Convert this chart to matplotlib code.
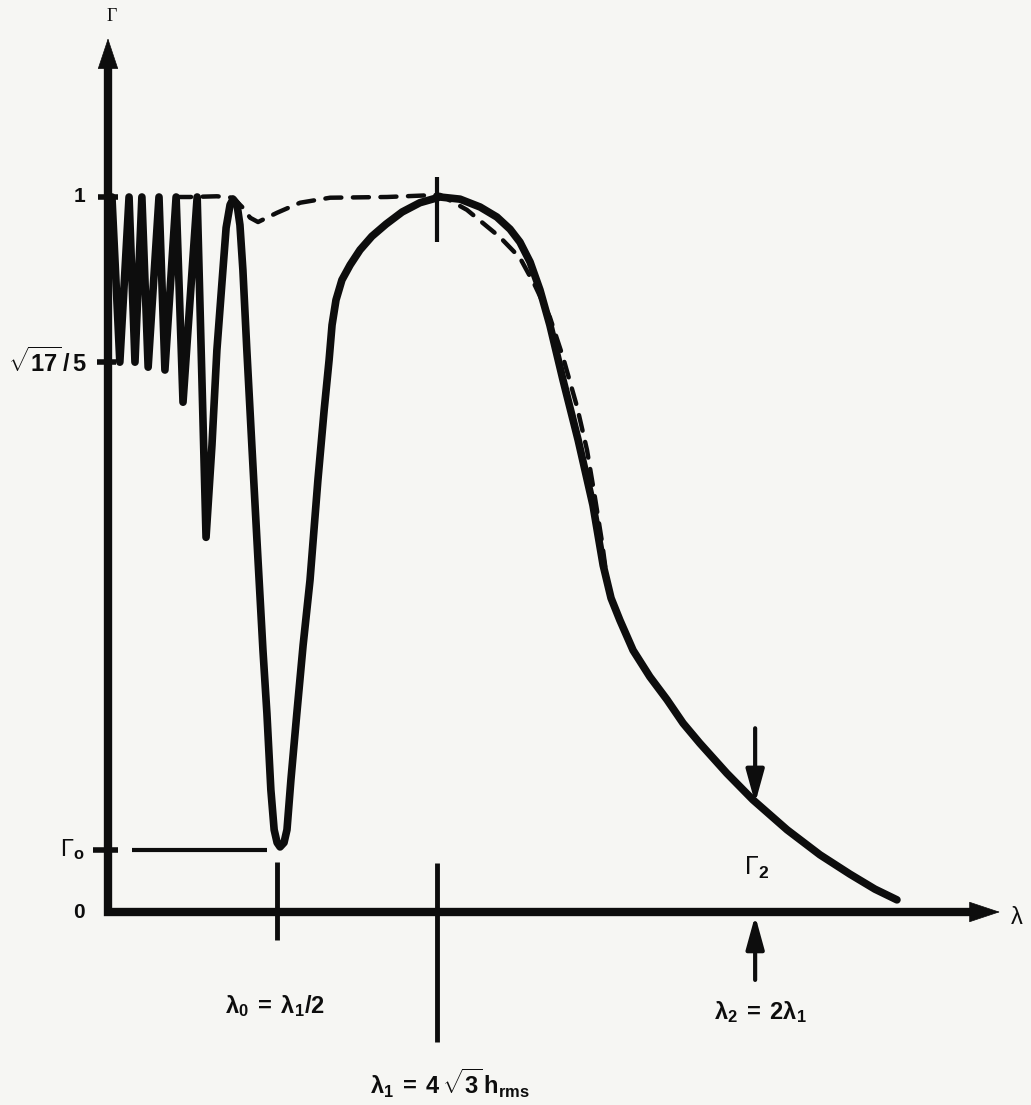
import matplotlib
matplotlib.use("Agg")
import matplotlib.pyplot as plt

plt.rcParams['font.family'] = ['Liberation Sans', 'DejaVu Sans']
plt.rcParams['mathtext.fontset'] = 'custom'
plt.rcParams['mathtext.rm'] = 'Liberation Sans'
plt.rcParams['mathtext.it'] = 'Liberation Sans:italic'
plt.rcParams['mathtext.bf'] = 'Liberation Sans:bold'

# ---- data read from the schematic (x: lambda / lambda1, y: Gamma, schematic scale) ----
solid_x = [0.012, 0.036, 0.064, 0.082, 0.103, 0.122, 0.155, 0.173, 0.207, 0.228, 0.271, 0.298,
           0.316, 0.331, 0.347, 0.359, 0.371, 0.380, 0.392, 0.401, 0.410, 0.422, 0.438, 0.456,
           0.471, 0.483, 0.495, 0.505, 0.514, 0.523, 0.535, 0.544, 0.556, 0.574, 0.593, 0.614,
           0.638, 0.657, 0.672, 0.681, 0.693, 0.711, 0.736, 0.766, 0.802, 0.845, 0.894, 0.948,
           1.009, 1.070, 1.131, 1.182, 1.222, 1.252, 1.283, 1.313, 1.343, 1.383, 1.429, 1.474,
           1.505, 1.529, 1.556, 1.596, 1.647, 1.699, 1.748, 1.799, 1.881, 1.960, 2.064, 2.164,
           2.255, 2.331, 2.398]
solid_y = [1.000, 0.769, 1.000, 0.769, 1.000, 0.762, 1.000, 0.758, 1.000, 0.713, 1.000, 0.524,
           0.653, 0.786, 0.884, 0.957, 0.989, 0.997, 0.990, 0.961, 0.898, 0.786, 0.646, 0.492,
           0.366, 0.278, 0.171, 0.115, 0.097, 0.091, 0.097, 0.115, 0.185, 0.278, 0.373, 0.464,
           0.604, 0.702, 0.772, 0.821, 0.856, 0.884, 0.905, 0.926, 0.945, 0.962, 0.979, 0.992,
           1.000, 0.997, 0.986, 0.972, 0.955, 0.937, 0.909, 0.870, 0.821, 0.744, 0.660, 0.569,
           0.485, 0.439, 0.408, 0.366, 0.329, 0.297, 0.264, 0.236, 0.194, 0.157, 0.115, 0.080,
           0.053, 0.032, 0.017]

dashed_x = [0.204, 0.249, 0.331, 0.380, 0.410, 0.432, 0.456, 0.514, 0.584, 0.675, 0.848, 1.009,
            1.091, 1.191, 1.252, 1.298, 1.343, 1.383, 1.426, 1.456, 1.480, 1.502, 1.517]
dashed_y = [1.000, 1.000, 1.001, 0.999, 0.985, 0.971, 0.965, 0.978, 0.992, 0.999, 1.000, 1.003,
            0.982, 0.944, 0.915, 0.876, 0.832, 0.776, 0.706, 0.646, 0.580, 0.516, 0.464]

gamma_levels = [1.0, 0.769, 0.087, 0.0]            # 1, sqrt(17)/5, Gamma_o, 0
gamma_labels = ['1', r'$\sqrt{\mathbf{17}}\,\mathbf{/\,5}$', r'$\mathrm{\Gamma}_{\mathbf{o}}$', '0']
lambda_marks = [0.514, 1.0, 1.967]                 # lambda0, lambda1, lambda2
lambda_labels = [r'$\mathbf{\lambda_0\;=\;\lambda_1/2}$',
                 r'$\mathbf{\lambda_1\;=\;4\,\sqrt{3}\,h_{rms}}$',
                 r'$\mathbf{\lambda_2\;=\;2\lambda_1}$']
gamma2_value = 0.152

# ---- figure ----
bg = '#f6f6f3'
fig = plt.figure(figsize=(10.31, 11.05), dpi=100, facecolor=bg)
ax = fig.add_axes([0, 0, 1, 1], facecolor=bg)
ax.set_xlim(-108 / 329, (1031 - 108) / 329)
ax.set_ylim((912 - 1105) / 715, 912 / 715)
ax.axis('off')
ink = '#0d0d0d'

# axes with arrow heads
x_tip, y_tip = 2.711, 1.222
ax.plot([0, 0, x_tip - 0.05], [y_tip - 0.03, 0, 0], color=ink, lw=6,
        solid_joinstyle='miter', solid_capstyle='butt')
head = dict(arrowstyle='-|>,head_length=2.1,head_width=0.7', mutation_scale=10,
            color=ink, lw=0.5, shrinkA=0, shrinkB=0)
ax.annotate('', xy=(0, y_tip), xytext=(0, y_tip - 0.06), arrowprops=head)
ax.annotate('', xy=(x_tip, 0), xytext=(x_tip - 0.12, 0), arrowprops=head)

# curves
ax.plot(solid_x, solid_y, color=ink, lw=5.5, solid_joinstyle='round', solid_capstyle='round')
ax.plot(dashed_x, dashed_y, color=ink, lw=3.2, dashes=(3.6, 2.6), dash_capstyle='round')

# y ticks and labels
tick_span = [(-0.030, 0.030), (-0.033, 0.024), (-0.046, 0.030)]
for lvl, (a, b) in zip(gamma_levels[:3], tick_span):
    ax.plot([a, b], [lvl, lvl], color=ink, lw=4, solid_capstyle='butt')
label_x = [-0.070, -0.064, -0.070, -0.070]
label_fs = [15, 17, 17, 15]
for lvl, lab, lx, fs in zip(gamma_levels, gamma_labels, label_x, label_fs):
    ax.text(lx, lvl, lab, ha='right', va='center', fontsize=fs, fontweight='bold', color=ink)

# Gamma_o reference line
ax.plot([0.073, 0.483], [gamma_levels[2], gamma_levels[2]], color=ink, lw=3, solid_capstyle='butt')

# lambda ticks
ax.plot([lambda_marks[0]] * 2, [0.070, -0.039], color=ink, lw=3.5, solid_capstyle='butt')
ax.plot([lambda_marks[1]] * 2, [0.069, -0.182], color=ink, lw=3.5, solid_capstyle='butt')
ax.plot([lambda_marks[1]] * 2, [1.028, 0.937], color=ink, lw=3, solid_capstyle='butt')

small_head = dict(arrowstyle='-|>,head_length=2.0,head_width=0.55', mutation_scale=10,
                  color=ink, lw=3, shrinkA=0, shrinkB=0)
ax.annotate('', xy=(lambda_marks[2], gamma2_value), xytext=(lambda_marks[2], 0.257),
            arrowprops=small_head)
ax.annotate('', xy=(lambda_marks[2], -0.005), xytext=(lambda_marks[2], -0.095),
            arrowprops=small_head)

# lambda labels
label_pos = [(0.508, -0.131), (1.040, -0.239), (1.982, -0.140)]
for (lx, ly), lab in zip(label_pos, lambda_labels):
    ax.text(lx, ly, lab, ha='center', va='center', fontsize=17, color=ink)

ax.text(1.972, 0.062, r'$\mathrm{\Gamma}_{\mathbf{2}}$', ha='center', va='center', fontsize=18, color=ink)
ax.text(2.763, -0.008, 'λ', ha='center', va='center', fontsize=17, color=ink)
ax.text(0.012, 1.252, 'Γ', ha='center', va='center', fontsize=13, family='Liberation Serif', color=ink)

fig.savefig('out.png', dpi=100, facecolor=bg)
